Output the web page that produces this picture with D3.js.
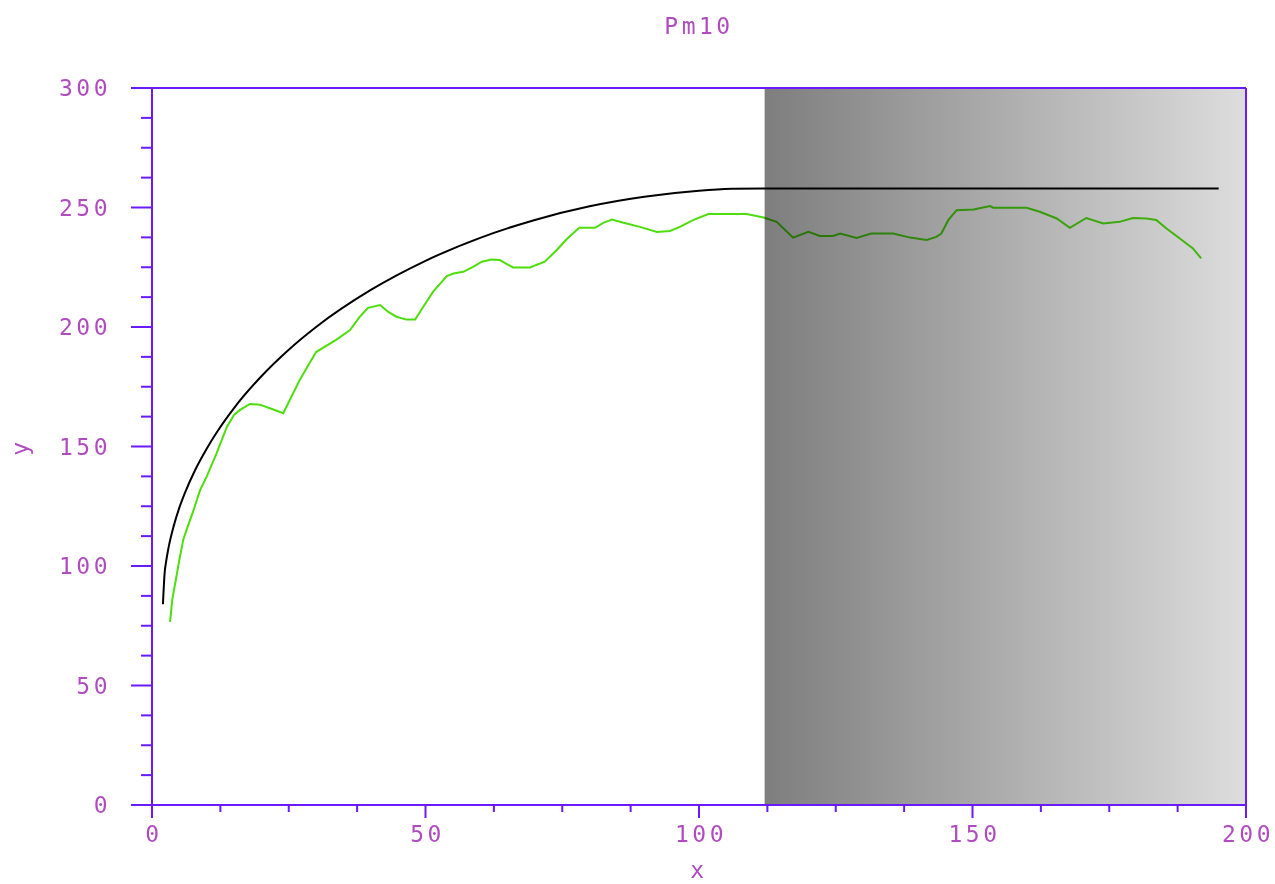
<!DOCTYPE html>
<html>
<head>
<meta charset="utf-8">
<script src="https://cdn.jsdelivr.net/npm/d3@7/dist/d3.min.js"></script>
<style>
  html, body { margin: 0; padding: 0; background: #fff; }
  svg { display: block; }
  .lbl { font-family: "DejaVu Sans Mono", monospace; font-size: 23px; fill: #b04cc0; letter-spacing: 3.5px; }
</style>
</head>
<body>
<svg id="chart" width="1275" height="884"></svg>
<script>
// ---- data ----
const title = "Pm10";
const xLabel = "x";
const yLabel = "y";
const xTicks = [0, 50, 100, 150, 200];
const yTicks = [0, 50, 100, 150, 200, 250, 300];
const shadeStart = 112;
const shadeEnd = 200;

// model curve (black)
const modelX = [2, 2.3, 2.6, 3, 4, 5, 6, 8, 10, 12, 15, 20, 25, 30, 40, 50, 60, 70, 80, 90, 100, 106, 112, 195];
const modelY = [84, 96.8, 102.1, 107.4, 117, 124.4, 130.5, 140.7, 149.1, 156.5, 166.1, 179.4, 190.5, 200, 215.5, 227.7, 237.3, 244.8, 250.5, 254.5, 257, 257.8, 258, 258];

// experimental series (green)
const expX = [3.3, 3.7, 5.0, 5.7, 6.3, 7.6, 8.8, 10, 11.8, 13.7, 15, 16.1, 17.9, 19.7, 22.2, 24, 27, 30, 33.8, 36.2, 38, 39.5, 41.7, 43.2, 44.7, 46.5, 48.1, 49.6, 51.4, 53.9, 55.1, 56.9, 58.7, 60.3, 62.1, 63.6, 66.0, 69.1, 71.8, 74, 75.8, 78.1, 81, 82.5, 84.1, 86.2, 89.2, 92.3, 94.7, 96.5, 99, 101.7, 108.7, 111.8, 114.2, 117.2, 120, 122.1, 124.5, 125.8, 128.8, 131.5, 135.5, 138.6, 141.6, 143.4, 144.3, 145.6, 147.1, 150.2, 153.2, 153.8, 159.9, 162.3, 165.4, 167.8, 170.8, 173.9, 176.9, 179.3, 181.8, 183.6, 185.4, 187.9, 190.3, 191.8];
const expY = [76.6, 85.8, 102.5, 110.9, 115, 123.4, 131.8, 137.4, 147.1, 158.3, 163.2, 165.3, 167.8, 167.5, 165.5, 163.9, 177.8, 189.5, 194.8, 198.7, 204.3, 208, 209.2, 206.3, 204.3, 203.1, 203.1, 208.5, 214.8, 221.3, 222.4, 223.1, 225.2, 227.3, 228.2, 228.0, 224.9, 224.9, 227.3, 232.2, 236.7, 241.5, 241.5, 243.6, 245, 243.6, 241.9, 239.8, 240.2, 241.9, 244.8, 247.3, 247.3, 245.8, 244, 237.4, 239.8, 238.1, 238.1, 239.1, 237.3, 239.1, 239.1, 237.4, 236.4, 237.7, 239.1, 244.8, 248.9, 249.2, 250.6, 249.9, 249.9, 248.2, 245.4, 241.5, 245.6, 243.3, 244, 245.6, 245.4, 244.8, 241.3, 237, 232.9, 228.7];

// ---- layout ----
const svg = d3.select("#chart");
const L = 152, R = 1246, T = 88, B = 805;
const x = d3.scaleLinear().domain([0, 200]).range([L, R]);
const y = d3.scaleLinear().domain([0, 300]).range([B, T]);
const axisColor = "#6a1aff";

// lines
const line = d3.line().x(d => x(d[0])).y(d => y(d[1]));
const line2 = d3.line().x(d => x(d[0])).y(d => y(d[1])).curve(d3.curveMonotoneX);

svg.append("path")
  .attr("d", line(expX.map((v, i) => [v, expY[i]])))
  .attr("fill", "none").attr("stroke", "#4ede0e").attr("stroke-width", 2);

svg.append("path")
  .attr("d", line2(modelX.map((v, i) => [v, modelY[i]])))
  .attr("fill", "none").attr("stroke", "#000").attr("stroke-width", 2);

// shaded region (multiplied over the lines)
const defs = svg.append("defs");
const grad = defs.append("linearGradient").attr("id", "shade").attr("x1", "0").attr("x2", "1").attr("y1", "0").attr("y2", "0");
grad.append("stop").attr("offset", "0").attr("stop-color", "#7e7e7e");
grad.append("stop").attr("offset", "1").attr("stop-color", "#dddddd");
svg.append("rect")
  .attr("x", x(shadeStart)).attr("y", y(300))
  .attr("width", x(shadeEnd) - x(shadeStart)).attr("height", y(0) - y(300))
  .attr("fill", "url(#shade)")
  .style("mix-blend-mode", "multiply");

// frame
svg.append("line").attr("x1", L).attr("x2", R).attr("y1", T).attr("y2", T).attr("stroke", axisColor).attr("stroke-width", 2);
svg.append("line").attr("x1", R).attr("x2", R).attr("y1", T).attr("y2", B).attr("stroke", axisColor).attr("stroke-width", 2);

// y axis
const yMinor = d3.range(0, 300.1, 12.5);
const yAx = svg.append("g").attr("transform", `translate(${L},0)`);
yAx.append("line").attr("x1", 0).attr("x2", 0).attr("y1", T).attr("y2", B + 13).attr("stroke", axisColor).attr("stroke-width", 2);
yAx.selectAll("line.mn").data(yMinor).enter().append("line")
  .attr("x1", d => yTicks.includes(d) ? -21 : -11).attr("x2", 0)
  .attr("y1", d => y(d)).attr("y2", d => y(d))
  .attr("stroke", axisColor).attr("stroke-width", 2);
svg.selectAll("text.yt").data(yTicks).enter().append("text")
  .attr("class", "lbl").attr("x", 111).attr("y", d => y(d) + 8)
  .attr("text-anchor", "end").text(d => d);

// x axis
const xMinor = d3.range(0, 200.1, 12.5);
const xAx = svg.append("g").attr("transform", `translate(0,${B})`);
xAx.append("line").attr("x1", L - 21).attr("x2", R).attr("y1", 0).attr("y2", 0).attr("stroke", axisColor).attr("stroke-width", 2);
xAx.selectAll("line.mn").data(xMinor).enter().append("line")
  .attr("x1", d => x(d)).attr("x2", d => x(d))
  .attr("y1", 0).attr("y2", d => xTicks.includes(d) ? 13 : 7)
  .attr("stroke", axisColor).attr("stroke-width", 2);
svg.selectAll("text.xt").data(xTicks).enter().append("text")
  .attr("class", "lbl").attr("x", d => x(d) + 2).attr("y", B + 37)
  .attr("text-anchor", "middle").text(d => d);

// titles
svg.append("text").attr("class", "lbl").attr("x", 699).attr("y", 34).attr("text-anchor", "middle").text(title);
svg.append("text").attr("class", "lbl").attr("x", 699).attr("y", 878).attr("text-anchor", "middle").text(xLabel);
svg.append("text").attr("class", "lbl").attr("transform", "translate(28,447) rotate(-90)").attr("text-anchor", "middle").text(yLabel);
</script>
</body>
</html>
